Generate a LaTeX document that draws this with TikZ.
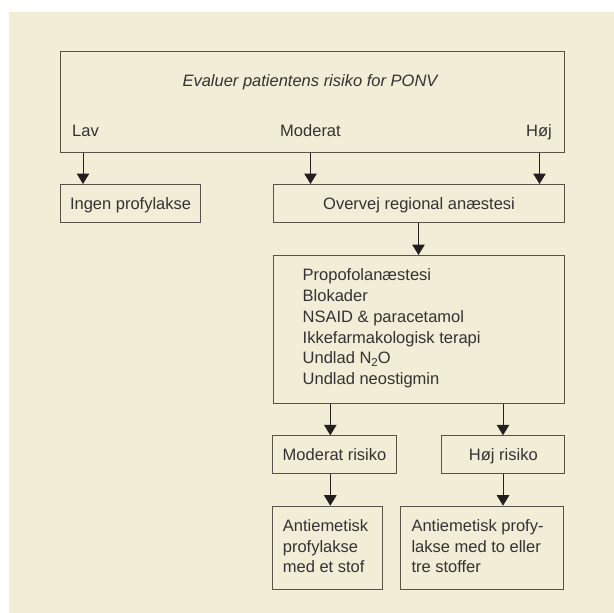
\documentclass[tikz,border=0pt]{standalone}
\usepackage{fontspec}
\setmainfont{Liberation Sans}
\usetikzlibrary{arrows.meta,calc}
\definecolor{bg}{HTML}{F1EDD6}
\definecolor{ink}{HTML}{333333}
\definecolor{edge}{HTML}{55534A}
\definecolor{arrink}{HTML}{231F20}
\begin{document}
\begin{tikzpicture}[x=1pt,y=-1pt,
  box/.style={draw=edge,line width=1.1pt,inner sep=0pt,anchor=north west,
    text=ink,font=\fontsize{16.5}{20.8}\selectfont,text height=11.9pt,text depth=0pt},
  txt/.style={text=ink,font=\fontsize{16.5}{20.8}\selectfont,inner sep=0pt},
  arr/.style={draw=arrink,line width=1pt,-{Triangle[length=10.5pt,width=12.5pt]}}]
\useasboundingbox (0,0) rectangle (614,613);
\fill[bg] (9,12) rectangle (614,613);
% boxes
\node[box,minimum width=504pt,minimum height=101pt] (eval) at (60,51) {};
\node[txt,anchor=base,font=\fontsize{16.5}{20.8}\selectfont\itshape] (title) at (310,86) {Evaluer patientens risiko for PONV};
\node[txt,anchor=base west] (lav) at (72,136) {Lav};
\node[txt,anchor=base] (mod) at (310.5,136) {Moderat};
\node[txt,anchor=base east] (hoj) at (552,136) {Høj};
\node[box,minimum width=140pt,minimum height=38pt] (ingen) at (60,184) {Ingen profylakse};
\node[box,minimum width=291pt,minimum height=38pt] (overvej) at (273,184) {Overvej regional anæstesi};
\node[box,minimum width=291pt,minimum height=147.7pt] (list) at (273,255) {};
\node[txt,anchor=north west,align=left] (listtxt) at (302.5,268.6) {Propofolanæstesi\\Blokader\\NSAID \& paracetamol\\Ikkefarmakologisk terapi\\Undlad N\raisebox{-0.3ex}{\fontsize{11.5}{11.5}\selectfont 2}O\\Undlad neostigmin};
\node[box,minimum width=123.4pt,minimum height=37.7pt] (mr) at (272.3,435.3) {Moderat risiko};
\node[box,minimum width=123pt,minimum height=37.7pt] (hr) at (441.3,435.3) {Høj risiko};
\node[box,minimum width=110pt,minimum height=83.3pt] (a1) at (272.3,505.7) {};
\node[box,minimum width=163.6pt,minimum height=83.3pt] (a2) at (399.7,505.7) {};
\node[txt,anchor=north west,align=left,font=\fontsize{16.5}{20.3}\selectfont] (a1txt) at (282.7,519.6) {Antiemetisk\\profylakse\\med et stof};
\node[txt,anchor=north west,align=left,font=\fontsize{16.5}{20.3}\selectfont] (a2txt) at (411.3,519.6) {Antiemetisk profy-\\lakse med to eller\\tre stoffer};
% arrow columns
\coordinate (xl) at (83,0);
\coordinate (xm) at (310.5,0);
\coordinate (xh) at (539.5,0);
\coordinate (xo) at (418.5,0);
\coordinate (xa) at (330.3,0);
\coordinate (xb) at (503,0);
\draw[arr] (eval.south -| xl) -- (ingen.north -| xl);
\draw[arr] (eval.south -| xm) -- (overvej.north -| xm);
\draw[arr] (eval.south -| xh) -- (overvej.north -| xh);
\draw[arr] (overvej.south -| xo) -- (list.north -| xo);
\draw[arr] (list.south -| xa) -- (mr.north -| xa);
\draw[arr] (list.south -| xb) -- (hr.north -| xb);
\draw[arr] (mr.south -| xa) -- (a1.north -| xa);
\draw[arr] (hr.south -| xb) -- (a2.north -| xb);
\end{tikzpicture}
\end{document}
